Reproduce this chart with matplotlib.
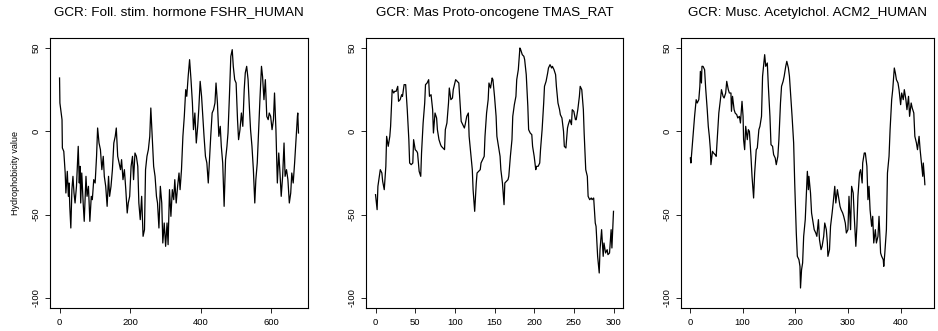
import numpy as np
import matplotlib
matplotlib.use("Agg")
import matplotlib.pyplot as plt

plt.rcParams['font.family'] = ['Liberation Sans', 'DejaVu Sans']

titles = ["GCR: Foll. stim. hormone FSHR_HUMAN",
          "GCR: Mas Proto-oncogene TMAS_RAT",
          "GCR: Musc. Acetylchol. ACM2_HUMAN"]
ylabel = "Hydrophobicity value"

# FSHR_HUMAN
pos1 = [0, 1, 7, 8, 12, 16, 18, 22, 25, 27, 29, 32, 35, 38, 41, 44, 48, 50, 53, 56,
        58, 60, 63, 67, 70, 75, 78, 82, 86, 90, 93, 97, 101, 105, 108, 112, 116, 120, 124, 127,
        131, 135, 139, 142, 146, 150, 154, 158, 161, 165, 169, 173, 176, 180, 184, 188, 192, 195, 199, 203,
        207, 210, 214, 218, 222, 225, 229, 233, 237, 241, 244, 248, 252, 256, 259, 263, 267, 271, 275, 278,
        282, 286, 290, 293, 297, 301, 305, 308, 312, 316, 320, 324, 327, 331, 335, 339, 342, 346, 350, 354,
        358, 361, 365, 369, 373, 377, 380, 384, 388, 392, 395, 399, 403, 407, 410, 414, 418, 422, 425, 429,
        433, 437, 441, 444, 448, 452, 456, 459, 463, 467, 471, 475, 478, 482, 486, 490, 493, 497, 501, 505,
        508, 512, 516, 520, 524, 527, 531, 535, 539, 542, 546, 550, 554, 557, 561, 565, 569, 573, 576, 580,
        584, 588, 592, 595, 599, 603, 607, 610, 614, 618, 622, 625, 629, 633, 637, 640, 644, 648, 652, 656,
        659, 663, 667, 671, 675, 676, 678]
val1 = [32, 17, 7, -10, -12, -25, -37, -24, -39, -31, -45, -58, -35, -27, -37, -43, -33, -23, -9, -31,
        -21, -43, -25, -43, -54, -27, -39, -33, -54, -39, -41, -29, -31, -15, 2, -7, -11, -23, -15, -27,
        -33, -45, -27, -39, -33, -23, -7, -3, 2, -15, -19, -23, -17, -29, -23, -35, -49, -43, -39, -21,
        -15, -29, -13, -15, -21, -43, -53, -39, -63, -59, -23, -15, -11, -3, 14, -3, -21, -27, -39, -43,
        -58, -33, -43, -67, -55, -69, -55, -68, -35, -51, -35, -41, -29, -43, -33, -25, -35, -23, -3, 9,
        25, 21, 33, 43, 31, 17, 1, 11, -7, 3, 13, 30, 21, 7, -3, -15, -19, -31, -19, -3,
        11, 13, 17, 29, 17, -3, 3, -9, -19, -45, -17, -9, -1, 21, 45, 49, 39, 31, 29, 7,
        -5, 1, 11, 3, 25, 35, 39, 31, 13, 1, -9, -23, -43, -29, -19, 1, 21, 39, 33, 19,
        31, 9, 7, 11, 9, 1, 7, 23, 1, -31, -13, -23, -39, -27, -7, -27, -23, -29, -43, -37,
        -25, -31, -19, -5, 9, 11, -1]

# TMAS_RAT
pos2 = [0, 2, 3, 6, 8, 9, 11, 13, 14, 16, 18, 19, 21, 23, 24, 26, 28, 29, 31, 33,
        34, 36, 38, 40, 42, 43, 45, 47, 48, 50, 52, 53, 55, 57, 58, 60, 62, 63, 65, 67,
        68, 70, 72, 73, 75, 77, 78, 80, 82, 83, 85, 87, 88, 90, 92, 93, 95, 97, 98, 101,
        103, 105, 107, 108, 110, 112, 113, 115, 117, 118, 120, 122, 123, 125, 127, 128, 130, 132, 133, 135,
        137, 138, 140, 142, 143, 145, 147, 148, 150, 152, 153, 155, 157, 158, 160, 162, 163, 165, 167, 168,
        170, 172, 173, 175, 177, 178, 180, 182, 183, 185, 187, 188, 190, 192, 193, 195, 197, 198, 200, 202,
        203, 205, 207, 208, 210, 212, 213, 215, 217, 218, 220, 222, 223, 225, 227, 228, 230, 232, 233, 235,
        237, 238, 240, 242, 243, 245, 247, 248, 250, 252, 253, 255, 257, 258, 260, 262, 263, 265, 267, 268,
        270, 272, 273, 275, 277, 278, 280, 282, 283, 285, 287, 288, 290, 292, 293, 295, 297, 298, 300]
val2 = [-38, -47, -33, -23, -25, -30, -35, -21, -3, -9, -3, 3, 25, 23, 24, 24, 27, 18, 19, 22,
        21, 28, 28, 13, -5, -19, -20, -19, -5, -11, -12, -13, -24, -27, -13, 5, 17, 28, 29, 31,
        21, 22, 13, -1, 11, 8, 1, -5, -8, -9, -10, -11, 1, 5, 17, 26, 19, 20, 25, 31,
        30, 29, 13, 6, 4, 2, 4, 9, 11, -3, -13, -23, -35, -48, -31, -25, -24, -23, -19, -17,
        -15, -3, 11, 19, 29, 26, 32, 31, 21, 9, -3, -9, -15, -23, -31, -44, -31, -30, -29, -27,
        -15, -5, 9, 16, 21, 31, 37, 50, 49, 46, 45, 43, 34, 15, 1, -1, -2, -9, -15, -23,
        -21, -21, -19, -11, 1, 17, 27, 30, 35, 38, 40, 38, 39, 37, 34, 27, 17, 13, 10, 8,
        0, -9, -10, 2, 4, 7, 4, 13, 12, 7, 7, 13, 21, 27, 25, 13, -1, -23, -27, -39,
        -41, -40, -41, -40, -55, -57, -75, -85, -71, -59, -75, -67, -73, -71, -74, -73, -59, -70, -48]

# ACM2_HUMAN
pos3 = [1, 2, 4, 7, 9, 12, 14, 17, 19, 20, 22, 23, 25, 28, 30, 33, 35, 37, 39, 40,
        43, 45, 48, 50, 53, 55, 58, 60, 63, 65, 68, 70, 73, 75, 78, 79, 81, 84, 86, 89,
        91, 94, 96, 99, 101, 102, 104, 106, 109, 111, 113, 116, 118, 121, 123, 126, 128, 131, 133, 136,
        138, 141, 142, 144, 147, 149, 152, 154, 157, 159, 162, 164, 167, 169, 172, 174, 177, 179, 182, 184,
        187, 189, 192, 194, 197, 199, 202, 204, 207, 209, 210, 212, 214, 216, 219, 221, 223, 225, 226, 229,
        231, 234, 236, 239, 241, 244, 246, 249, 251, 254, 256, 259, 261, 262, 265, 267, 270, 272, 275, 277,
        280, 282, 285, 287, 290, 292, 295, 297, 300, 302, 305, 307, 310, 312, 314, 315, 317, 319, 322, 324,
        327, 328, 331, 333, 336, 338, 340, 342, 345, 347, 349, 352, 354, 357, 359, 362, 364, 367, 368, 370,
        373, 375, 378, 380, 383, 385, 388, 390, 392, 395, 397, 400, 402, 405, 407, 410, 412, 415, 417, 420,
        422, 425, 427, 430, 432, 435, 437, 440, 442, 443, 445, 446]
val3 = [-16, -19, -11, 1, 9, 19, 17, 19, 27, 36, 29, 39, 39, 37, 26, 13, 3, -3, -11, -20,
        -12, -13, -14, -15, 1, 11, 19, 25, 21, 20, 23, 30, 25, 23, 23, 12, 21, 13, 11, 10,
        8, 9, 5, 18, 9, -5, -11, 3, -5, 1, 0, -15, -27, -40, -25, -11, -10, 1, 3, 9,
        33, 43, 46, 39, 41, 27, 9, -8, -9, -14, -16, -20, -15, -5, 17, 27, 30, 33, 39, 42,
        38, 33, 19, 9, -7, -31, -61, -75, -77, -81, -94, -83, -79, -63, -53, -39, -24, -35, -27, -37,
        -49, -55, -59, -61, -63, -53, -65, -71, -69, -63, -55, -59, -67, -75, -71, -57, -49, -43, -33, -43,
        -35, -39, -45, -47, -49, -51, -55, -61, -59, -39, -59, -33, -37, -51, -63, -69, -57, -39, -25, -23,
        -31, -19, -13, -13, -21, -41, -33, -47, -57, -51, -67, -59, -67, -63, -51, -73, -75, -77, -81, -73,
        -59, -25, -15, 1, 19, 25, 38, 35, 31, 29, 25, 16, 23, 19, 25, 19, 13, 21, 9, 17,
        14, 11, -3, -7, -11, -3, -11, -21, -27, -19, -27, -32]

series = [(pos1, val1), (pos2, val2), (pos3, val3)]
lefts = [0.0533, 0.3902, 0.7260]
widths = [0.2751, 0.2740, 0.2700]

fig = plt.figure(figsize=(9.38, 3.31), dpi=100)
xticks = [[0, 200, 400, 600], [0, 50, 100, 150, 200, 250, 300], [0, 100, 200, 300, 400]]

for k in range(3):
    ax = fig.add_axes([lefts[k], 0.0695, widths[k], 0.8157])
    x, y = series[k]
    ax.plot(x, y, color='black', lw=0.9)
    span = max(x) - min(x)
    ax.set_xlim(min(x) - 0.04 * span, max(x) + 0.04 * span)
    ax.set_ylim(-106, 56)
    ax.set_xticks(xticks[k])
    ax.set_yticks([-100, -50, 0, 50])
    ax.set_yticklabels(['-100', '-50', '0', '50'], rotation=90, va='center')
    ax.tick_params(labelsize=6.8, length=3.5, width=0.6, pad=3.5, color='black')
    for s in ax.spines.values():
        s.set_linewidth(0.8)
    fig.text(lefts[k] + widths[k] / 2, 0.962, titles[k], ha='center', va='center', fontsize=9.7)
    if k == 0:
        ax.set_ylabel(ylabel, fontsize=6.5, labelpad=8)

fig.savefig("out.png", dpi=100)
